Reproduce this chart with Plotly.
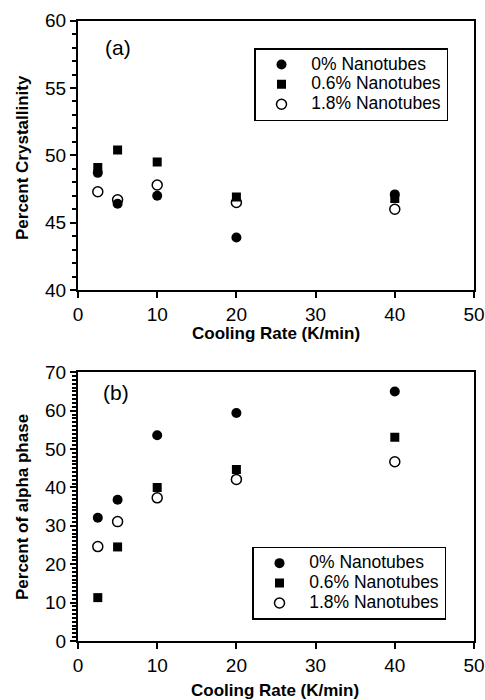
import plotly.graph_objects as go

# Data
cooling_rate = [2.5, 5, 10, 20, 40]

cryst_0 = [48.7, 46.4, 47.0, 43.9, 47.1]
cryst_06 = [49.1, 50.4, 49.5, 46.9, 46.8]
cryst_18 = [47.3, 46.7, 47.8, 46.5, 46.0]

alpha_0 = [32.1, 36.8, 53.6, 59.4, 65.0]
alpha_06 = [11.3, 24.5, 40.0, 44.7, 53.1]
alpha_18 = [24.6, 31.1, 37.3, 42.1, 46.7]

series_names = ["0% Nanotubes", "0.6% Nanotubes", "1.8% Nanotubes"]

FONT = "Liberation Sans, Arial, sans-serif"

fig = go.Figure()

styles = [
    dict(symbol="circle", size=10, color="black", line=dict(color="black", width=0)),
    dict(symbol="square", size=9, color="black", line=dict(color="black", width=0)),
    dict(symbol="circle-open", size=10, color="black", line=dict(color="black", width=1.5)),
]


def legend_name(s):
    return '<span style="font-size:17.5px">\u00a0\u00a0' + s + "</span>"


for i, (ys, st) in enumerate(zip([cryst_0, cryst_06, cryst_18], styles)):
    fig.add_trace(go.Scatter(
        x=cooling_rate, y=ys, mode="markers", name=legend_name(series_names[i]),
        marker=st, xaxis="x", yaxis="y", legend="legend", legendrank=i + 1,
    ))
for i, (ys, st) in enumerate(zip([alpha_0, alpha_06, alpha_18], styles)):
    fig.add_trace(go.Scatter(
        x=cooling_rate, y=ys, mode="markers", name=legend_name(series_names[i]),
        marker=st, xaxis="x2", yaxis="y2", legend="legend2", legendrank=i + 1,
    ))

W, H = 485, 700
xdom = [78 / W, 474 / W]
ydom_a = [1 - 290 / H, 1 - 20.7 / H]
ydom_b = [1 - 641 / H, 1 - 372.3 / H]

common_x = dict(
    range=[0, 50], tick0=0, dtick=10, ticks="outside", ticklen=6,
    tickwidth=2, tickcolor="#000000", showline=True, linewidth=2, linecolor="black",
    mirror=True, showgrid=False, zeroline=False, automargin=False,
    tickfont=dict(family=FONT, size=19, color="black"),
    domain=xdom,
)
common_y = dict(
    ticks="outside", ticklen=6, tickwidth=2, tickcolor="#000000", showline=True,
    linewidth=2, linecolor="black", mirror=True, showgrid=False, zeroline=False,
    automargin=False, tickfont=dict(family=FONT, size=19, color="black"),
    minor=dict(dtick=1, ticks="outside", ticklen=4, tickwidth=1.5, tickcolor="#000000", showgrid=False),
)

legend_common = dict(
    xanchor="left", yanchor="top",
    bordercolor="black", borderwidth=1.5, bgcolor="white",
    font=dict(family=FONT, size=13, color="black"), indentation=6,
    itemclick=False, entrywidthmode="pixels",
)

fig.update_layout(
    width=W, height=H, margin=dict(l=0, r=0, t=0, b=0),
    paper_bgcolor="white", plot_bgcolor="white",
    font=dict(family=FONT, color="black"),
    xaxis=dict(**common_x, anchor="y"),
    yaxis=dict(**common_y, range=[40, 60], tick0=40, dtick=5, domain=ydom_a, anchor="x"),
    xaxis2=dict(**common_x, anchor="y2"),
    yaxis2=dict(**common_y, range=[0, 70], tick0=0, dtick=10, domain=ydom_b, anchor="x2"),
    legend=dict(x=254 / W, y=1 - 48 / H, entrywidth=170, **legend_common),
    legend2=dict(x=252 / W, y=1 - 546.7 / H, entrywidth=150, **legend_common),
    annotations=[
        dict(text="(a)", x=118 / W, y=1 - 47 / H, xref="paper", yref="paper",
             showarrow=False, font=dict(family=FONT, size=21, color="black"),
             xanchor="center", yanchor="middle"),
        dict(text="(b)", x=116 / W, y=1 - 392 / H, xref="paper", yref="paper",
             showarrow=False, font=dict(family=FONT, size=21, color="black"),
             xanchor="center", yanchor="middle"),
        dict(text="<b>Cooling Rate (K/min)</b>", x=276 / W, y=1 - 333 / H, xref="paper", yref="paper",
             showarrow=False, font=dict(family=FONT, size=17, color="black"),
             xanchor="center", yanchor="middle"),
        dict(text="<b>Cooling Rate (K/min)</b>", x=275 / W, y=1 - 690 / H, xref="paper", yref="paper",
             showarrow=False, font=dict(family=FONT, size=17, color="black"),
             xanchor="center", yanchor="middle"),
        dict(text="<b>Percent Crystallinity</b>", x=22 / W, y=1 - 158 / H, xref="paper", yref="paper",
             showarrow=False, textangle=-90, font=dict(family=FONT, size=17, color="black"),
             xanchor="center", yanchor="middle"),
        dict(text="<b>Percent of alpha phase</b>", x=22 / W, y=1 - 507 / H, xref="paper", yref="paper",
             showarrow=False, textangle=-90, font=dict(family=FONT, size=17, color="black"),
             xanchor="center", yanchor="middle"),
    ],
)

fig.write_html("out.html")
